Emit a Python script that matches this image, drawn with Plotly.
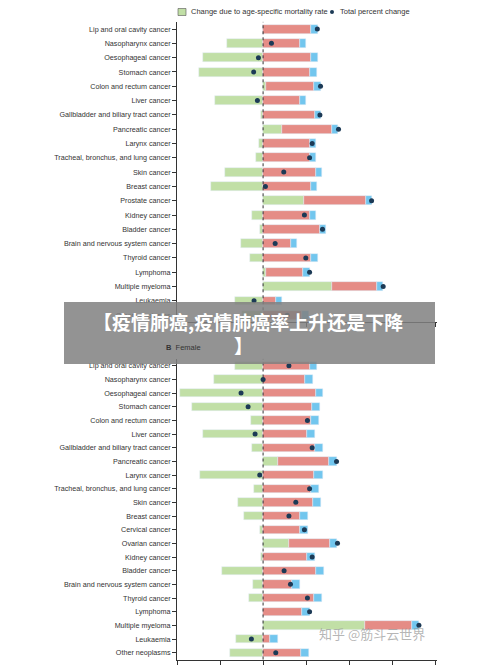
import plotly.graph_objects as go

male_cats = ["Lip and oral cavity cancer","Nasopharynx cancer","Oesophageal cancer","Stomach cancer",
 "Colon and rectum cancer","Liver cancer","Gallbladder and biliary tract cancer","Pancreatic cancer",
 "Larynx cancer","Tracheal, bronchus, and lung cancer","Skin cancer","Breast cancer","Prostate cancer",
 "Kidney cancer","Bladder cancer","Brain and nervous system cancer","Thyroid cancer","Lymphoma",
 "Multiple myeloma","Leukaemia","Other neoplasms"]
male_mort = [0,-41.5,-70,-74,3,-56,-2,22.5,-5,-8.5,-44.6,-61,47,-13,-3.9,-26,-14.7,3,79.5,-33,-25]
male_age = [56,43.4,56,55,56,42.6,60,58,54,54,61,56,72,54,66,32,56,43.4,52.7,14.7,45]
male_growth = [7.8,7,7.8,8,7.8,7,7.8,6.6,7.8,7.8,7.4,7,7,7,7,7.4,8,7.8,7.4,7.8,8]
male_total = [63,9.7,-5.4,-10.9,66.7,-6.6,66,87.6,57,54,24,2.7,126,48,69,14,49.6,54,139.5,-10.5,28]

female_cats = ["Lip and oral cavity cancer","Nasopharynx cancer","Oesophageal cancer","Stomach cancer",
 "Colon and rectum cancer","Liver cancer","Gallbladder and biliary tract cancer","Pancreatic cancer",
 "Larynx cancer","Tracheal, bronchus, and lung cancer","Skin cancer","Breast cancer","Cervical cancer",
 "Ovarian cancer","Kidney cancer","Bladder cancer","Brain and nervous system cancer","Thyroid cancer",
 "Lymphoma","Multiple myeloma","Leukaemia","Other neoplasms"]
female_mort = [-33,-57,-96,-83,-14,-70,-13,17.4,-73,-10.9,-29.5,-22,-3.9,30,-2,-47.3,-11.6,-16.7,0,118.6,-31.4,-38.8]
female_age = [54,48.5,61,56.6,55.8,50.8,60.5,59.3,59.7,55.8,58,42.6,43.4,47.3,51.5,62,34,59,45.7,53.9,8.5,44.6]
female_growth = [9,9,9,9.3,9,9.3,9,9.3,9.3,9,9.3,9,9,9,9,9.3,9,9.3,9.3,9,9,9]
female_total = [30,0,-25.6,-17.4,51.5,-9.3,57,85.3,-3.9,54,38,30,48,86.4,57,24.4,31.8,51.5,54,181,-13.6,14.7]

x_ticks = [-100,-50,0,50,100,150,200]

legend_labels = ["Change due to population growth", "Change due to population ageing",
                 "Change due to age-specific mortality rate", "Total percent change"]

BLUE, RED, GREEN, DOT = "#72c6ee", "#e58c86", "#c1dfa6", "#1c3a56"
H, W = 666, 500
OFF = 8  # page body margin
FONT = "Liberation Sans"

def px(x):
    return (x - OFF) / W

def py(y):
    return 1 - (y - OFF) / H

fig = go.Figure()

def add_panel(cats, mort, age, growth, total, xa, ya):
    idx = list(range(len(cats)))
    for vals, col in ((mort, GREEN), (age, RED), (growth, BLUE)):
        fig.add_bar(y=idx, x=vals, orientation="h", marker_color=col, width=0.62, showlegend=False, xaxis=xa, yaxis=ya)
    fig.add_scatter(y=idx, x=total, mode="markers", marker=dict(color=DOT, size=5), showlegend=False, xaxis=xa, yaxis=ya)

add_panel(male_cats, male_mort, male_age, male_growth, male_total, "x", "y")
add_panel(female_cats, female_mort, female_age, female_growth, female_total, "x2", "y2")

def yax(cats, top, bottom, anchor):
    return dict(domain=[py(bottom), py(top)], range=[len(cats) - 0.5, -0.5], tickmode="array",
                tickvals=list(range(len(cats))), ticktext=cats, anchor=anchor, showline=True, linecolor="#333",
                linewidth=1, ticks="outside", ticklen=4, tickcolor="#333", tickfont=dict(size=7.2, color="#333", family=FONT),
                showgrid=False, zeroline=False, automargin=False)

def xax(anchor):
    return dict(domain=[px(177), px(437)], range=[-100, 202], tickvals=x_ticks, showticklabels=False, anchor=anchor,
                showline=True, linecolor="#333", ticks="outside", ticklen=4, tickcolor="#333", showgrid=False,
                zeroline=False, automargin=False)

fig.update_layout(
    width=W, height=H, margin=dict(l=0, r=0, t=0, b=0, autoexpand=False), plot_bgcolor="white", paper_bgcolor="white",
    barmode="relative", bargap=0, showlegend=False,
    xaxis=xax("y"), yaxis=yax(male_cats, 21.9, 322.3, "x"),
    xaxis2=xax("y2"), yaxis2=yax(female_cats, 358.9, 659.5, "x2"),
)

for xr, yr in (("x", "y"), ("x2", "y2")):
    fig.add_shape(type="line", xref=xr, yref=yr + " domain", x0=0, x1=0, y0=0, y1=1,
                  line=dict(color="#333", width=1, dash="dot"))

# custom legend
leg_pos = [(178, 1), (309, 1), (178, 12), (332, 12)]
leg_cols = [BLUE, RED, GREEN, None]
for (lx, ly), lab, col in zip(leg_pos, legend_labels, leg_cols):
    if col:
        fig.add_shape(type="rect", xref="paper", yref="paper", x0=px(lx), x1=px(lx + 8), y0=py(ly + 3.5), y1=py(ly - 3.5),
                      fillcolor=col, line=dict(color="#555", width=0.6))
        tx = lx + 11
    else:
        fig.add_shape(type="circle", xref="paper", yref="paper", x0=px(lx - 2), x1=px(lx + 2), y0=py(ly + 2), y1=py(ly - 2),
                      fillcolor=DOT, line_width=0)
        tx = lx + 6
    fig.add_annotation(x=px(tx), y=py(ly), xref="paper", yref="paper", text=lab, showarrow=False, xanchor="left",
                       yanchor="middle", font=dict(size=7.5, color="#333", family=FONT))

fig.add_annotation(x=px(164), y=py(347), xref="paper", yref="paper", text="<b>B</b>  Female", showarrow=False,
                   xanchor="left", font=dict(size=7.5, color="#333", family=FONT))
fig.add_shape(type="rect", xref="paper", yref="paper", x0=px(64), x1=px(435), y0=py(364), y1=py(302),
              fillcolor="rgba(128,128,128,0.85)", line_width=0, layer="above")
fig.add_annotation(x=px(248), y=py(321), xref="paper", yref="paper", showarrow=False,
                   text="<b>【疫情肺癌,疫情肺癌率上升还是下降</b>", font=dict(size=19, color="white", family="Noto Sans CJK SC"))
fig.add_annotation(x=px(243), y=py(345), xref="paper", yref="paper", showarrow=False,
                   text="<b>】</b>", font=dict(size=19, color="white", family="Noto Sans CJK SC"))
fig.add_annotation(x=px(427), y=py(645), xref="paper", yref="paper", showarrow=False,
                   text="知乎 @筋斗云世界", font=dict(size=13, color="rgba(150,150,150,0.7)", family="Noto Sans CJK SC"))

fig.write_html("out.html")
